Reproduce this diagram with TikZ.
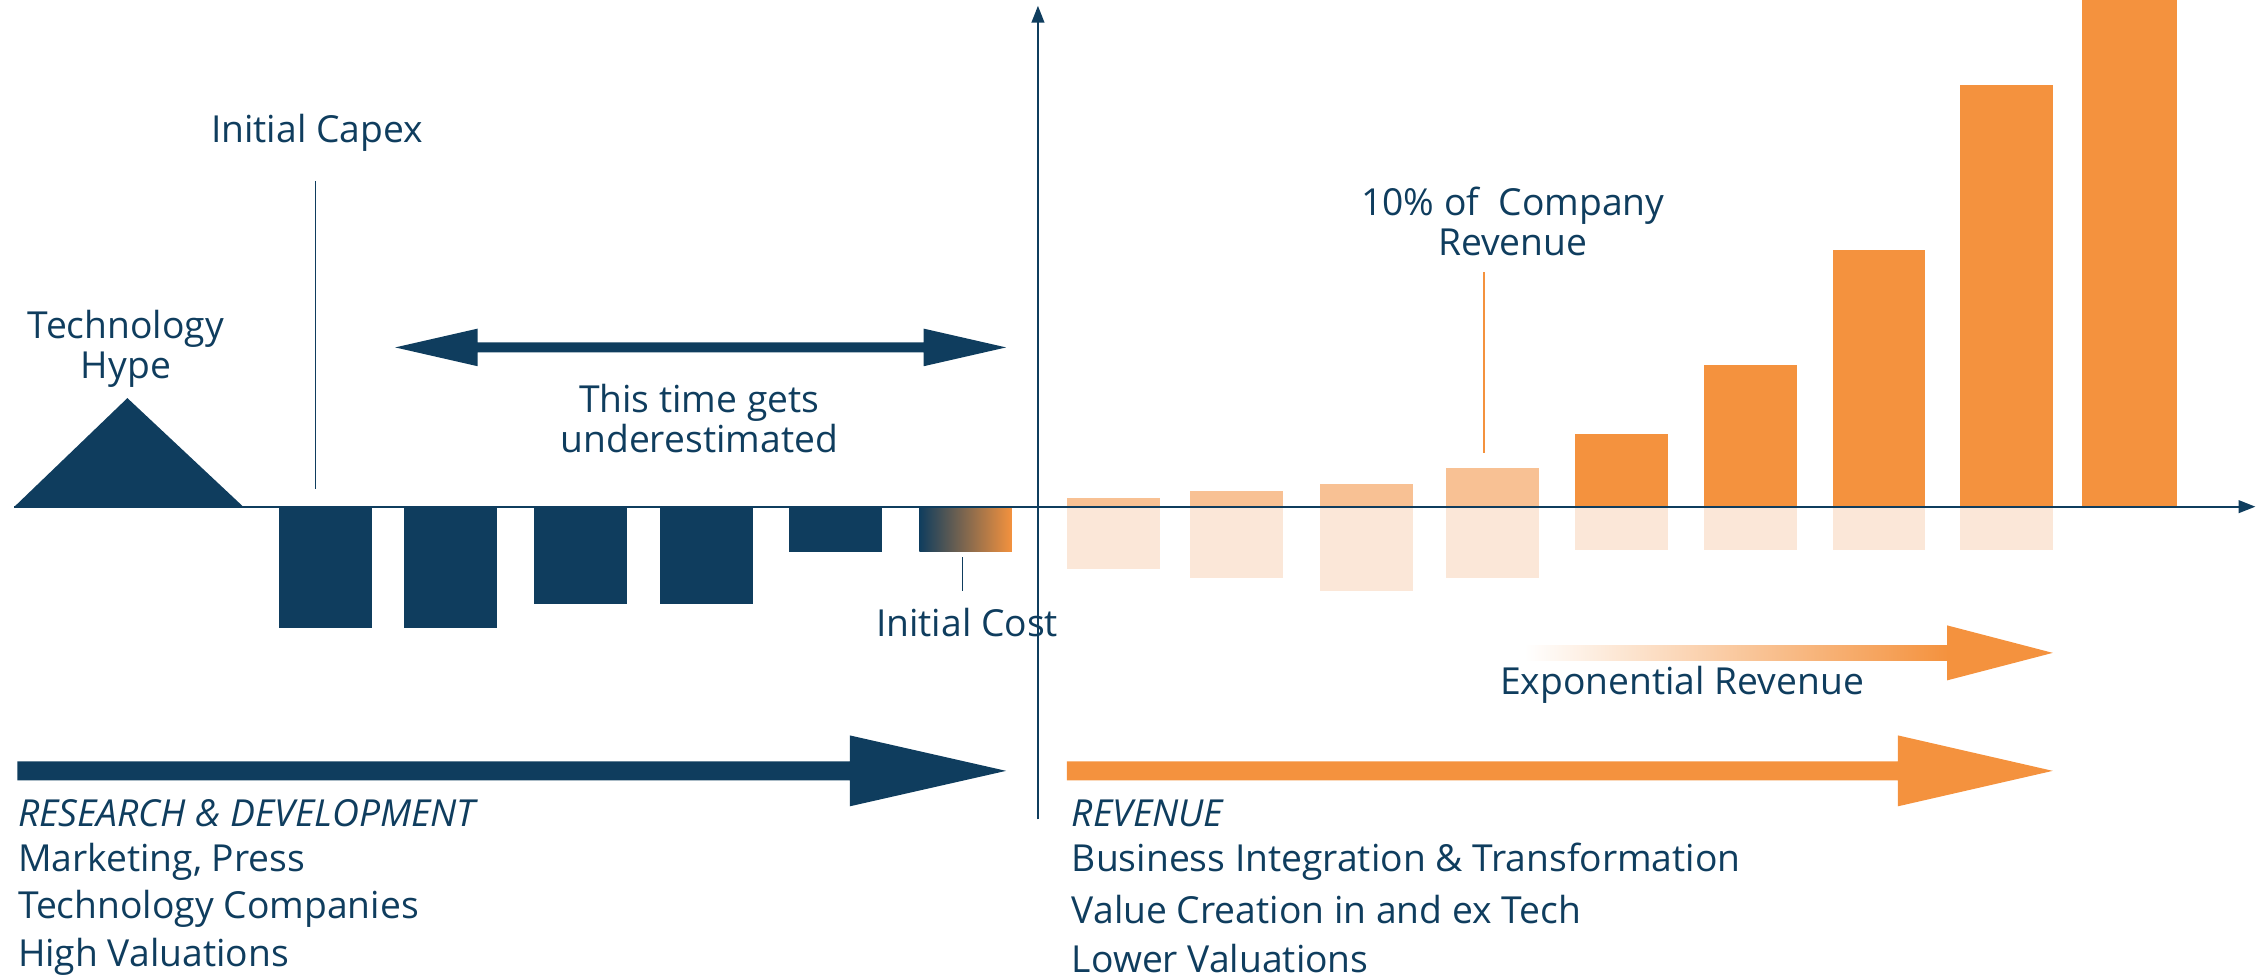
\documentclass[tikz,border=0pt]{standalone}
\usepackage{fontspec}
\setmainfont{Open Sans}
\usepackage{tikz}
\usetikzlibrary{arrows.meta, positioning}
\usepackage{xcolor}
\definecolor{navyblue}{RGB}{15, 61, 94}
\definecolor{accentorange}{RGB}{244, 146, 62}
\definecolor{peach}{RGB}{248, 193, 148}
\definecolor{peachlight}{RGB}{251, 231, 216}

\begin{document}
\begin{tikzpicture}[x=0.014476cm, y=-0.014476cm,
    lbl/.style={text=navyblue, font=\fontsize{10.6}{11.5}\selectfont, align=center, inner sep=0pt},
    lstitem/.style={lbl, anchor=west},
    leader/.style={navyblue, line width=0.4pt},
    axisline/.style={navyblue, line width=0.6pt, -{Triangle[length=4.8pt, width=3.6pt]}}]
    \useasboundingbox (0,0) rectangle (1566,675);
    % cost side
    \fill[navyblue] (10,350) -- (88,275) -- (168,350) -- cycle;
    \foreach \xl/\yb in {193/434, 279/434, 369/417, 456/417, 545/381}
        \fill[navyblue] (\xl,350) rectangle (\xl+64,\yb);
    \shade[left color=navyblue, right color=accentorange] (635,350) rectangle (699,381);
    % revenue side
    \foreach \xl/\yt/\yb in {737/344/393, 822/339/399, 912/334/408, 999/323/399} {
        \fill[peachlight] (\xl,350) rectangle (\xl+64,\yb);
        \fill[peach] (\xl,\yt) rectangle (\xl+64,350);
    }
    \foreach \xl/\yt in {1088/300, 1177/252, 1266/173, 1354/59} {
        \fill[peachlight] (\xl,350) rectangle (\xl+64,380);
        \fill[accentorange] (\xl,\yt) rectangle (\xl+64,350);
    }
    \fill[accentorange] (1438,0) rectangle (1504,350);
    % axes
    \coordinate (origin) at (717,350);
    \coordinate (xstart) at (10,350);
    \coordinate (xend) at (1558,350);
    \coordinate (ybottom) at (717,566);
    \coordinate (ytop) at (717,4);
    \draw[axisline] (xstart) -- (xend);
    \draw[axisline] (ybottom) -- (ytop);
    % double arrow
    \fill[navyblue] (273,240) -- (330,227) -- (330,236.5) -- (638,236.5) -- (638,227)
        -- (695,240) -- (638,253) -- (638,243.5) -- (330,243.5) -- (330,253) -- cycle;
    % labels
    \node[lbl] (hype) at (87,241) {Technology\\Hype};
    \node[lbl] (capex) at (219,92) {Initial Capex};
    \coordinate (capextop) at (218,125);
    \coordinate (capexfoot) at (218,338);
    \draw[leader] (capextop) -- (capexfoot);
    \node[lbl] (underest) at (483,289) {This time gets\\underestimated};
    \node[lbl] (initcost) at (668,430) {Initial Cost};
    \coordinate (costtop) at (665,385);
    \coordinate (costfoot) at (665,408);
    \draw[leader] (costtop) -- (costfoot);
    \node[lbl] (tenpct) at (1045,153) {10\% of~ Company\\Revenue};
    \coordinate (pcttop) at (1025,188);
    \coordinate (pctfoot) at (1025,313);
    \draw[accentorange, line width=0.4pt] (pcttop) -- (pctfoot);
    % exponential revenue arrow
    \shade[left color=white, right color=accentorange] (1053,446) rectangle (1346,456);
    \fill[accentorange] (1345,432) -- (1418,451) -- (1345,470) -- cycle;
    \node[lbl] (exprev) at (1162,473) {Exponential Revenue};
    % phase arrows
    \fill[navyblue] (12,526) -- (587,526) -- (587,508) -- (695,532.5) -- (587,557) -- (587,539) -- (12,539) -- cycle;
    \fill[accentorange] (737,526) -- (1311,526) -- (1311,508) -- (1418,532.5) -- (1311,557) -- (1311,539) -- (737,539) -- cycle;
    % phase lists
    \node[lstitem] (rnd) at (12,562) {\itshape RESEARCH \& DEVELOPMENT};
    \node[lstitem] (mkt) at (12,595) {Marketing, Press};
    \node[lstitem] (techco) at (12,628) {Technology Companies};
    \node[lstitem] (highval) at (12,661) {High Valuations};
    \node[lstitem] (rev) at (740,562) {\itshape REVENUE};
    \node[lstitem] (bizint) at (740,595) {Business Integration \& Transformation};
    \node[lstitem] (valcr) at (740,628) {Value Creation in and ex Tech};
    \node[lstitem] (lowval) at (740,662) {Lower Valuations};
\end{tikzpicture}
\end{document}
